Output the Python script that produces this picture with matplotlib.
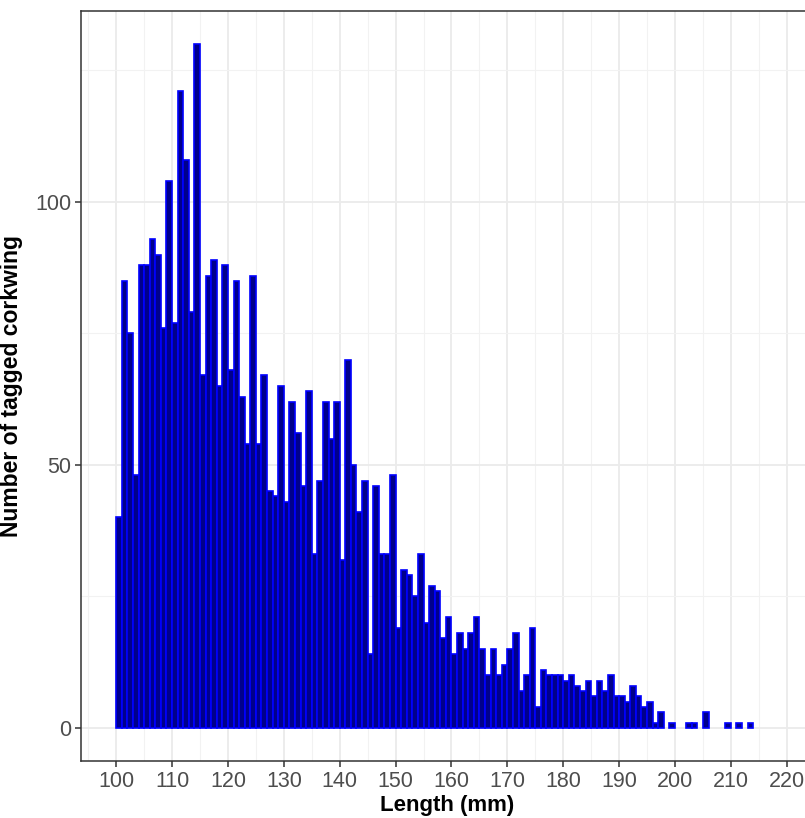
import numpy as np
import matplotlib.pyplot as plt
from matplotlib.ticker import MultipleLocator

#---Data: number of tagged fish per 1 mm length bin (bin start in mm)
binStart = np.arange(100, 214)
counts = [40, 85, 75, 48, 88, 88, 93, 90, 76, 104,
          77, 121, 108, 79, 130, 67, 86, 89, 65, 88,
          68, 85, 63, 54, 86, 54, 67, 45, 44, 65,
          43, 62, 56, 46, 64, 33, 47, 62, 55, 62,
          32, 70, 50, 41, 47, 14, 46, 33, 33, 48,
          19, 30, 29, 25, 33, 20, 27, 26, 17, 21,
          14, 18, 15, 18, 21, 15, 10, 15, 10, 12,
          15, 18, 7, 10, 19, 4, 11, 10, 10, 10,
          9, 10, 8, 7, 9, 6, 9, 7, 10, 6,
          6, 5, 8, 6, 4, 5, 1, 3, 0, 1,
          0, 0, 1, 1, 0, 3, 0, 0, 0, 1,
          0, 1, 0, 1]
xTicks = list(range(100, 221, 10))
yTicks = [0, 50, 100]

plt.rcParams['font.family'] = ['Liberation Sans', 'DejaVu Sans']

fig = plt.figure(figsize=(8.05, 8.18), dpi=100)
# right edge of the panel runs past the image, like the reference crop
ax = fig.add_axes([81 / 805, 57 / 818, 732 / 805, 750 / 818])

# zero bins are not drawn
counts = np.array(counts)
keep = counts > 0
ax.bar(binStart[keep], counts[keep], width=1.0, align='edge',
       color='#00008B', edgecolor='#0000FF', linewidth=1.2, zorder=3)

ax.set_xlim(93.7, 224.7)
ax.set_ylim(-6.3, 136.3)
ax.set_xticks(xTicks)
ax.set_yticks(yTicks)
ax.xaxis.set_minor_locator(MultipleLocator(5))
ax.yaxis.set_minor_locator(MultipleLocator(25))

#---ggplot-like grid
ax.grid(which='major', color='#EBEBEB', linewidth=1.3, zorder=0)
ax.grid(which='minor', color='#F2F2F2', linewidth=0.8, zorder=0)
ax.set_axisbelow(True)
for s in ax.spines.values():
    s.set_color('#333333')
    s.set_linewidth(1.1)

ax.tick_params(which='major', length=4, width=1.1, color='#333333',
               labelsize=15.5, labelcolor='#4D4D4D', pad=3)
ax.tick_params(which='minor', length=0)

ax.set_xlabel("Length (mm)", fontsize=16, fontweight='bold', labelpad=2)
ax.set_ylabel("Number of tagged corkwing", fontsize=16.5, fontweight='bold', labelpad=9)

fig.savefig("out.png", dpi=100)
